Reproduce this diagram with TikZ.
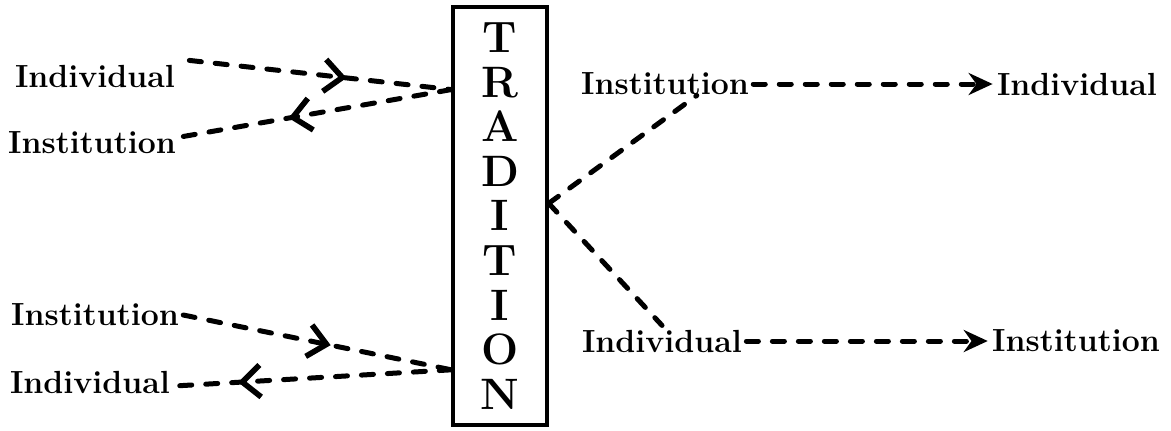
\documentclass[tikz,border=0pt]{standalone}
\usepackage{tikz}
\usetikzlibrary{arrows.meta,calc,decorations.markings}

\begin{document}
\begin{tikzpicture}[x=0.5pt, y=-0.5pt, >={Stealth[length=12pt,width=11pt]},
        word/.style={font=\fontsize{16}{19}\selectfont\bfseries, inner sep=2pt},
        link/.style={line width=2.5pt, line cap=round, dash pattern=on 6pt off 7pt},
        midtip/.style={postaction={decorate}, decoration={markings, mark=at position #1 with {\arrow{Straight Barb[length=9pt,width=16pt,line width=2.8pt]}}}}]
        \useasboundingbox (0,0) rectangle (1171,430);

        % Nodes
        \node[draw, line width=1.7pt, minimum width=47pt, minimum height=209pt, inner sep=0pt, align=center, font=\fontsize{22}{22.3}\selectfont\bfseries] (trad) at (500,216) {T\\R\\A\\D\\I\\T\\I\\O\\N};

        \node[word] (ind1) at (95,76) {Individual};
        \node[word] (ins1) at (92,143) {Institution};
        \node[word] (ins2) at (95,315) {Institution};
        \node[word] (ind2) at (90,382) {Individual};

        \node[word] (ins3) at (665,84) {Institution};
        \node[word] (ind3) at (1077,84) {Individual};
        \node[word] (ind4) at (662,341) {Individual};
        \node[word] (ins4) at (1076,341) {Institution};

        \coordinate (tl) at ($(trad.north west)!0.2!(trad.south west)$);
        \coordinate (bl) at ($(trad.north west)!0.865!(trad.south west)$);
        \coordinate (jn) at ($(trad.north east)!0.47!(trad.south east)$);

        % Edges
        \draw[link, midtip=0.6] ([xshift=5pt]ind1.north east) -- (tl);
        \draw[link, midtip=0.6] (tl) -- ([yshift=3pt]ins1.east);
        \draw[link, midtip=0.55] (ins2.east) -- (bl);
        \draw[link, midtip=0.77] (bl) -- ([yshift=-2pt]ind2.east);

        \draw[link] (jn) -- ([yshift=2pt]$(ins3.south west)!0.68!(ins3.south east)$);
        \draw[link] (jn) -- (ind4.north);
        \draw[link, ->] (ins3.east) -- (ind3.west);
        \draw[link, ->] (ind4.east) -- (ins4.west);
    \end{tikzpicture}
\end{document}
